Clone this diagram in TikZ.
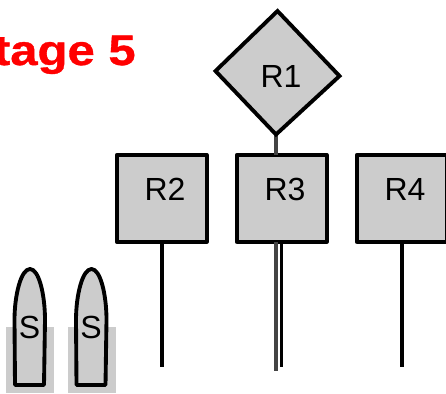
\documentclass[tikz,border=0pt]{standalone}
\usepackage{fontspec}
\setmainfont{Liberation Sans}
\newfontfamily\titlefont[FakeStretch=1.15,FakeBold=0.8]{Liberation Sans Bold}
\definecolor{roomgray}{HTML}{CCCCCC}
\definecolor{linegray}{HTML}{444444}
\tikzset{
    roombox/.style={draw=black,fill=roomgray,line width=2.9pt,line join=round,rectangle,minimum width=67.5pt,minimum height=65pt,inner sep=0pt,outer sep=0pt},
    roomtext/.style={font=\fontsize{24}{26}\selectfont,inner sep=0pt},
    wire/.style={draw=black,line width=2.6pt},
    graywire/.style={draw=linegray,line width=2.8pt}
}
\begin{document}
\begin{tikzpicture}[x=0.75pt,y=-0.75pt]
        \useasboundingbox (0,0) rectangle (446,393);

        \coordinate (r1t) at (277.5,11);
        \coordinate (r1l) at (215.5,71);
        \coordinate (r1b) at (276,134.5);
        \coordinate (r1r) at (339.5,76);
        \coordinate (r2e) at (162,367);
        \coordinate (r3g) at (276,371);
        \coordinate (r3e) at (281.5,367);
        \coordinate (r4e) at (402,367);

        \node[font=\fontsize{32}{34}\titlefont,text=red,anchor=base east,inner sep=0pt] (title) at (136,65) {tage 5};

        \node[roombox] (r2) at (161.7,198.3) {};
        \node[roombox] (r3) at (281.7,198.3) {};
        \node[roombox] (r4) at (401.7,198.3) {};

        \draw[graywire] (r1b) -- (r1b |- r3.north);
        \draw[draw=black,fill=roomgray,line width=2.9pt] (r1t) -- (r1r) -- (r1b) -- (r1l) -- cycle;

        \draw[wire] (r2e |- r2.south) -- (r2e);
        \draw[wire] (r3e |- r3.south) -- (r3e);
        \draw[wire] (r4e |- r4.south) -- (r4e);
        \draw[graywire] (r3g |- r3.south) -- (r3g);

        \node[roomtext] (r1) at (281,76) {R1};
        \node[roomtext] (r2t) at (165,189) {R2};
        \node[roomtext] (r3t) at (285,189) {R3};
        \node[roomtext] (r4t) at (405,189) {R4};

        \foreach \x/\n in {0/a,61.5/b}{
            \fill[roomgray] (\x+6,327) rectangle (\x+54,393);
            \draw[draw=black,fill=roomgray,line width=2.9pt,line join=round] (\x+15,385) -- (\x+14.5,320)
                .. controls (\x+14.5,295) and (\x+21,269) .. (\x+30,269)
                .. controls (\x+39,269) and (\x+45,295) .. (\x+45,320)
                -- (\x+44,385) -- cycle;
            \node[roomtext] (s\n) at (\x+29.5,327) {S};
        }
\end{tikzpicture}
\end{document}
